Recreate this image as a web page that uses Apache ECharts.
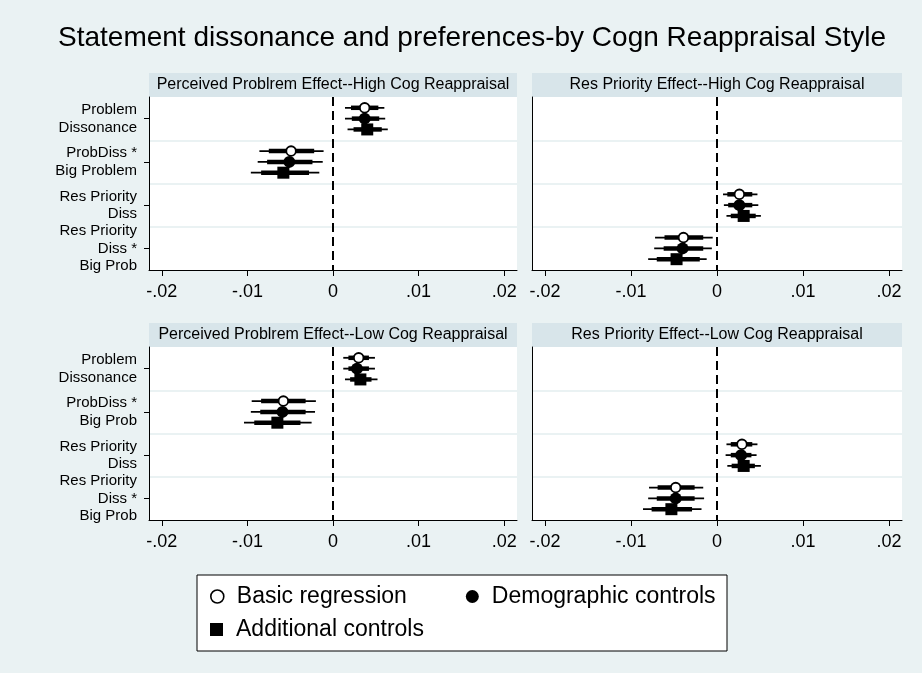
<!DOCTYPE html>
<html>
<head>
<meta charset="utf-8">
<script src="https://cdn.jsdelivr.net/npm/echarts@6/dist/echarts.min.js"></script>
<style>
  html, body { margin: 0; padding: 0; background: #eaf2f3; }
  #chart { width: 922px; height: 673px; }
</style>
</head>
<body>
<div id="chart"></div>
<script>
// category labels (top row and bottom row differ slightly)
var catsHigh = ['Problem\nDissonance', 'ProbDiss *\nBig Problem', 'Res Priority\nDiss', 'Res Priority\nDiss *\nBig Prob'];
var catsLow = ['Problem\nDissonance', 'ProbDiss *\nBig Prob', 'Res Priority\nDiss', 'Res Priority\nDiss *\nBig Prob'];
var xTicks = [-0.02, -0.01, 0, 0.01, 0.02];
var xTickLabels = ['-.02', '-.01', '0', '.01', '.02'];
var modelNames = ['Basic regression', 'Demographic controls', 'Additional controls'];
var panelTitles = [
    'Perceived Problrem Effect--High Cog Reappraisal',
    'Res Priority Effect--High Cog Reappraisal',
    'Perceived Problrem Effect--Low Cog Reappraisal',
    'Res Priority Effect--Low Cog Reappraisal'
];

// rows: [category index, estimate, lo (thin), hi (thin), lo (thick), hi (thick)]
var probHighBasic = [[0, 0.0037, 0.0014, 0.0060, 0.0021, 0.0053], [1, -0.0049, -0.0086, -0.0011, -0.0075, -0.0022]];
var probHighDemo  = [[0, 0.0037, 0.0014, 0.0061, 0.0022, 0.0054], [1, -0.0051, -0.0088, -0.0012, -0.0077, -0.0024]];
var probHighAdd   = [[0, 0.0040, 0.0017, 0.0064, 0.0024, 0.0057], [1, -0.0058, -0.0096, -0.0016, -0.0084, -0.0028]];

var resHighBasic = [[2, 0.0026, 0.0007, 0.0047, 0.0012, 0.0041], [3, -0.0039, -0.0072, -0.0005, -0.0061, -0.0016]];
var resHighDemo  = [[2, 0.0026, 0.0008, 0.0048, 0.0013, 0.0041], [3, -0.0040, -0.0073, -0.0006, -0.0062, -0.0016]];
var resHighAdd   = [[2, 0.0031, 0.0011, 0.0051, 0.0016, 0.0045], [3, -0.0047, -0.0080, -0.0012, -0.0070, -0.0020]];

var probLowBasic = [[0, 0.0030, 0.0012, 0.0049, 0.0018, 0.0042], [1, -0.0058, -0.0095, -0.0020, -0.0084, -0.0032]];
var probLowDemo  = [[0, 0.0028, 0.0012, 0.0049, 0.0018, 0.0042], [1, -0.0059, -0.0096, -0.0021, -0.0085, -0.0032]];
var probLowAdd   = [[0, 0.0032, 0.0014, 0.0052, 0.0020, 0.0045], [1, -0.0065, -0.0104, -0.0025, -0.0092, -0.0038]];

var resLowBasic = [[2, 0.0029, 0.0011, 0.0047, 0.0016, 0.0041], [3, -0.0048, -0.0079, -0.0016, -0.0069, -0.0026]];
var resLowDemo  = [[2, 0.0028, 0.0010, 0.0046, 0.0016, 0.0040], [3, -0.0048, -0.0080, -0.0015, -0.0070, -0.0026]];
var resLowAdd   = [[2, 0.0031, 0.0012, 0.0051, 0.0017, 0.0044], [3, -0.0053, -0.0086, -0.0018, -0.0076, -0.0029]];

var panelData = [
    [probHighBasic, probHighDemo, probHighAdd],
    [resHighBasic, resHighDemo, resHighAdd],
    [probLowBasic, probLowDemo, probLowAdd],
    [resLowBasic, resLowDemo, resLowAdd]
];

// layout
var FONT = 'Liberation Sans, Arial, sans-serif';
var BG = '#eaf2f3';
var STRIP = '#d8e5ea';
var panels = [
    {left: 149, top: 97, width: 368, height: 173},
    {left: 532, top: 97, width: 370, height: 173},
    {left: 149, top: 347, width: 368, height: 173},
    {left: 532, top: 347, width: 370, height: 173}
];
var stripH = 24;
var markerOffset = [-0.25, 0, 0.25];

var myChart = echarts.init(document.getElementById('chart'), null, {renderer: 'canvas'});

function makeRenderer(model) {
    return function (params, api) {
        var cat = api.value(0);
        var c = api.coord([api.value(1), cat]);
        var band = api.size([0, 1])[1];
        var y = c[1] + markerOffset[model] * band;
        var a1 = api.coord([api.value(2), cat])[0];
        var b1 = api.coord([api.value(3), cat])[0];
        var a2 = api.coord([api.value(4), cat])[0];
        var b2 = api.coord([api.value(5), cat])[0];
        var marker;
        if (model === 0) {
            marker = {type: 'circle', shape: {cx: c[0], cy: y, r: 4.8}, style: {fill: '#fff', stroke: '#000', lineWidth: 1.8}};
        } else if (model === 1) {
            marker = {type: 'circle', shape: {cx: c[0], cy: y, r: 6}, style: {fill: '#000'}};
        } else {
            marker = {type: 'rect', shape: {x: c[0] - 6, y: y - 6, width: 12, height: 12}, style: {fill: '#000'}};
        }
        return {
            type: 'group',
            children: [
                {type: 'line', shape: {x1: a1, y1: y, x2: b1, y2: y}, style: {stroke: '#000', lineWidth: 1.8}},
                {type: 'line', shape: {x1: a2, y1: y, x2: b2, y2: y}, style: {stroke: '#000', lineWidth: 4.5}},
                marker
            ]
        };
    };
}

var grids = [], xAxes = [], yAxes = [], series = [], graphics = [];
for (var p = 0; p < 4; p++) {
    var g = panels[p];
    grids.push({left: g.left, top: g.top, width: g.width, height: g.height,
        backgroundColor: '#fff', borderWidth: 0, show: true, outerBoundsMode: 'none'});
    xAxes.push({
        type: 'value', gridIndex: p, min: -0.0215, max: 0.0215,
        axisLine: {show: true, onZero: false, lineStyle: {color: '#000', width: 1}},
        axisTick: {show: true, length: 6, lineStyle: {color: '#000'}, customValues: xTicks},
        axisLabel: {
            margin: 13, color: '#000', fontSize: 18, fontFamily: FONT, customValues: xTicks,
            formatter: function (v) { return xTickLabels[xTicks.indexOf(Math.round(v * 1000) / 1000)]; }
        },
        splitLine: {show: false}
    });
    var leftCol = (p % 2 === 0);
    yAxes.push({
        type: 'category', gridIndex: p, inverse: true,
        data: p < 2 ? catsHigh : catsLow,
        axisLine: {show: true, onZero: false, lineStyle: {color: '#000', width: 1}},
        axisTick: {show: leftCol, alignWithLabel: true, interval: 0, length: 5, lineStyle: {color: '#000'}},
        axisLabel: {show: leftCol, interval: 0, margin: 12, color: '#000', fontSize: 15, lineHeight: 17.5, fontFamily: FONT},
        splitLine: {show: true, interval: 0, showMinLine: false, showMaxLine: false, lineStyle: {color: BG, width: 2}}
    });
    for (var m = 0; m < 3; m++) {
        var s = {
            name: modelNames[m],
            type: 'custom',
            coordinateSystem: 'cartesian2d',
            xAxisIndex: p, yAxisIndex: p,
            renderItem: makeRenderer(m),
            encode: {x: [1, 2, 3, 4, 5], y: 0},
            itemStyle: {color: '#000'},
            data: panelData[p][m],
            z: 3
        };
        if (m === 0) {
            s.markLine = {
                silent: true, symbol: ['none', 'none'], label: {show: false},
                lineStyle: {color: '#000', type: [9, 5], width: 2},
                data: [{xAxis: 0}]
            };
        }
        series.push(s);
    }
    // panel title strip
    graphics.push({
        type: 'rect', shape: {x: g.left, y: g.top - stripH, width: g.width, height: stripH},
        style: {fill: STRIP}, silent: true
    });
    graphics.push({
        type: 'text', x: g.left + g.width / 2, y: g.top - stripH / 2,
        style: {text: panelTitles[p], fill: '#000', font: '16px ' + FONT, textAlign: 'center', textVerticalAlign: 'middle'},
        silent: true
    });
}

// legend box
graphics.push({
    type: 'rect', shape: {x: 197, y: 575, width: 530, height: 76},
    style: {fill: '#fff', stroke: '#000', lineWidth: 1}, silent: true, z: -1
});

var legendText = {color: '#000', fontSize: 23, fontFamily: FONT, padding: [0, 0, 0, 8]};
var option = {
    backgroundColor: BG,
    animation: false,
    title: {
        text: 'Statement dissonance and preferences-by Cogn Reappraisal Style',
        left: 53, top: 19,
        textStyle: {color: '#000', fontSize: 28, fontWeight: 'normal', fontFamily: FONT}
    },
    grid: grids,
    xAxis: xAxes,
    yAxis: yAxes,
    legend: [
        {
            data: [
                {name: modelNames[0], icon: 'circle', itemStyle: {color: '#fff', borderColor: '#000', borderWidth: 1.6}},
                {name: modelNames[1], icon: 'circle', itemStyle: {color: '#000'}}
            ],
            left: 210, top: 585, padding: 0, itemGap: 59, itemWidth: 13, itemHeight: 13,
            selectedMode: false, textStyle: legendText
        },
        {
            data: [{name: modelNames[2], icon: 'rect', itemStyle: {color: '#000'}}],
            left: 210, top: 618, padding: 0, itemWidth: 13, itemHeight: 13,
            selectedMode: false, textStyle: legendText
        }
    ],
    graphic: graphics,
    series: series
};

myChart.setOption(option);
</script>
</body>
</html>
